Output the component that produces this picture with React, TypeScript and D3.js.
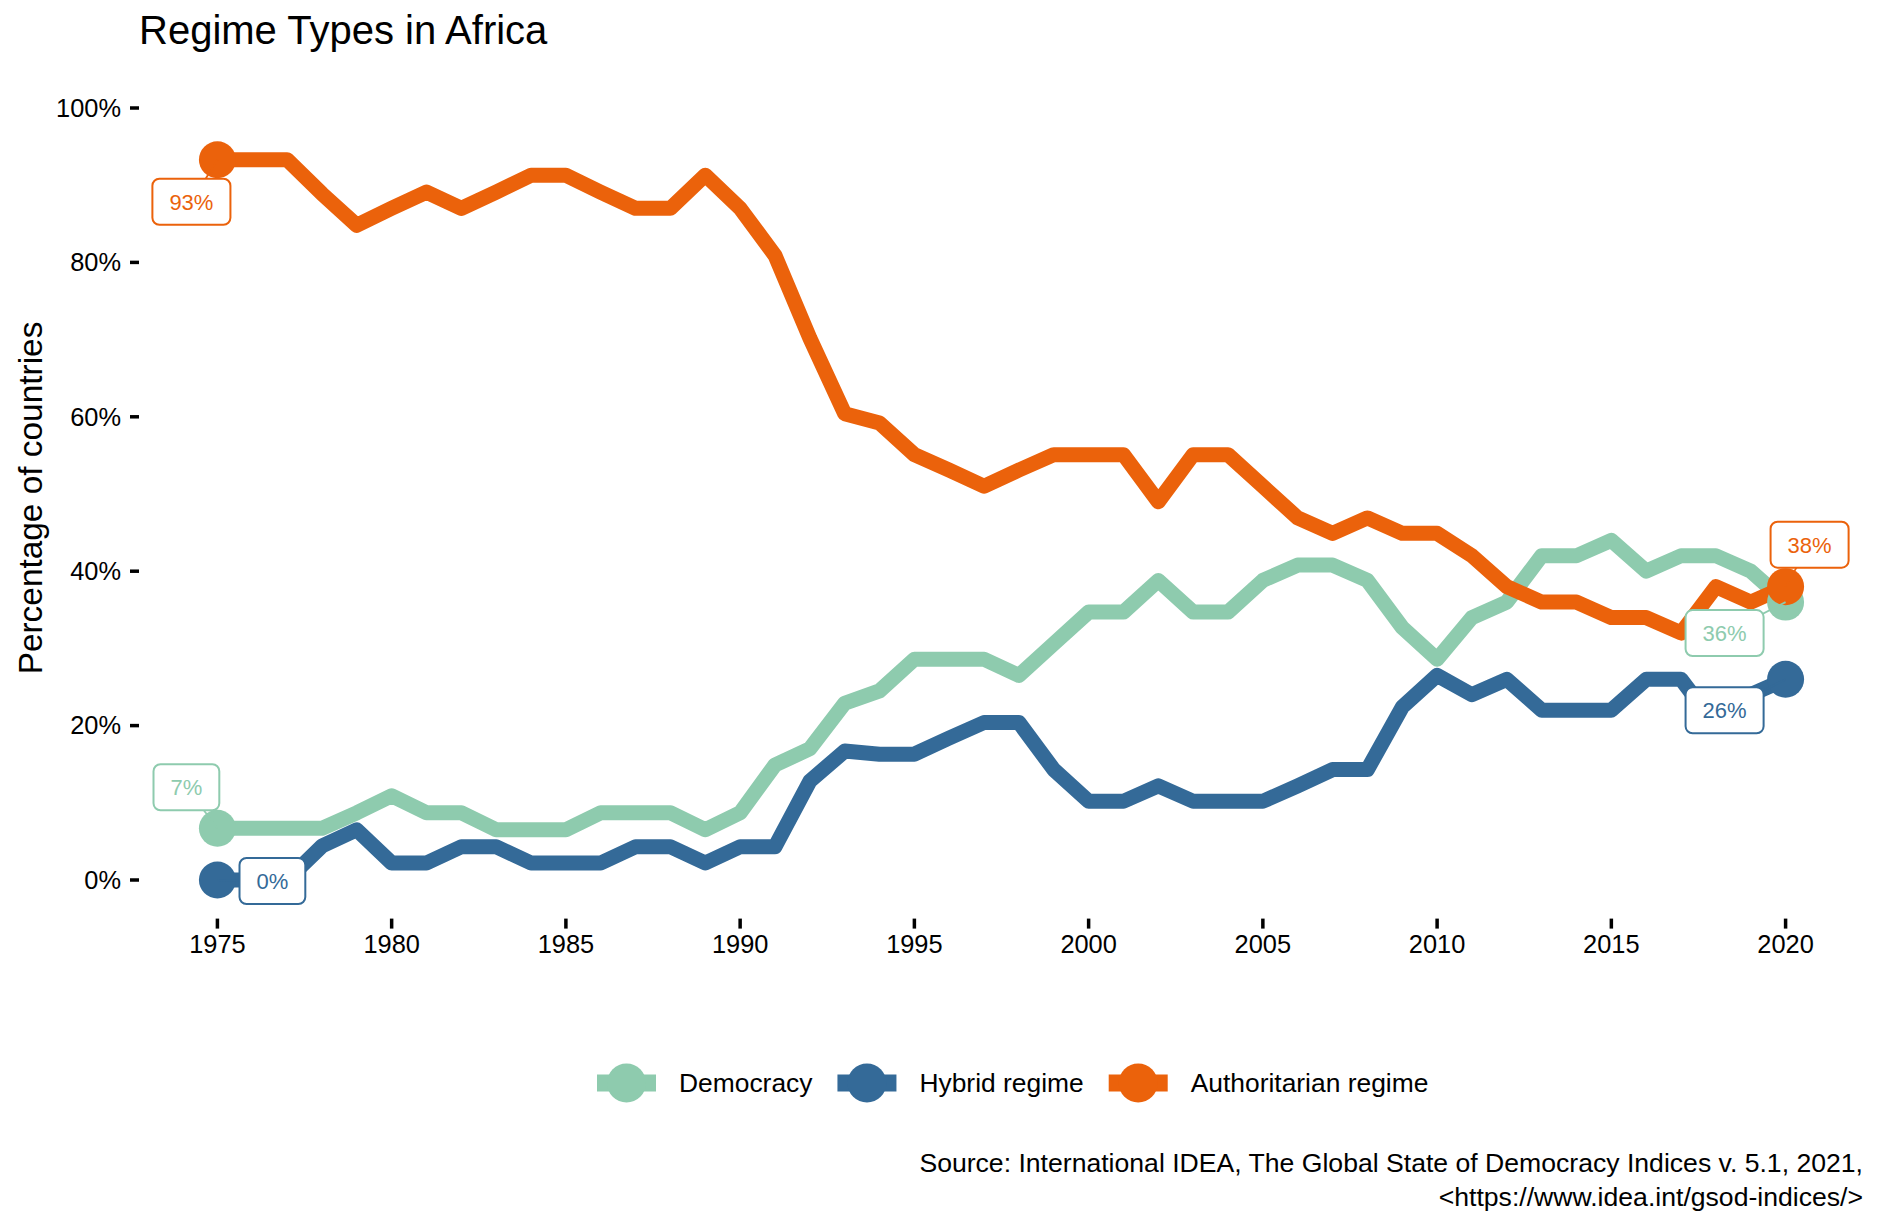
import React from "react";
import * as d3 from "d3";

const years = [
  1975, 1976, 1977, 1978, 1979, 1980, 1981, 1982, 1983, 1984,
  1985, 1986, 1987, 1988, 1989, 1990, 1991, 1992, 1993, 1994,
  1995, 1996, 1997, 1998, 1999, 2000, 2001, 2002, 2003, 2004,
  2005, 2006, 2007, 2008, 2009, 2010, 2011, 2012, 2013, 2014,
  2015, 2016, 2017, 2018, 2019, 2020,
];

const democracy = [
  6.7, 6.7, 6.7, 6.7, 8.7, 10.9, 8.7, 8.7, 6.5, 6.5,
  6.5, 8.7, 8.7, 8.7, 6.5, 8.7, 14.9, 17.0, 22.9, 24.5,
  28.6, 28.6, 28.6, 26.5, 30.6, 34.7, 34.7, 38.8, 34.7, 34.7,
  38.8, 40.8, 40.8, 38.8, 32.7, 28.6, 34, 36, 42, 42,
  44, 40, 42, 42, 40, 36,
];

const hybrid = [
  0, 0, 0, 4.4, 6.5, 2.2, 2.2, 4.3, 4.3, 2.2,
  2.2, 2.2, 4.3, 4.3, 2.2, 4.3, 4.3, 12.8, 16.7, 16.3,
  16.3, 18.4, 20.4, 20.4, 14.3, 10.2, 10.2, 12.2, 10.2, 10.2,
  10.2, 12.2, 14.3, 14.3, 22.4, 26.5, 24, 26, 22, 22,
  22, 26, 26, 20, 24, 26,
];

const authoritarian = [
  93.3, 93.3, 93.3, 88.9, 84.8, 87.0, 89.1, 87.0, 89.1, 91.3,
  91.3, 89.1, 87.0, 87.0, 91.3, 87.0, 80.9, 70.2, 60.4, 59.2,
  55.1, 53.1, 51.0, 53.1, 55.1, 55.1, 55.1, 49.0, 55.1, 55.1,
  51.0, 46.9, 44.9, 46.9, 44.9, 44.9, 42, 38, 36, 36,
  34, 34, 32, 38, 36, 38,
];

const seriesNames = ["Democracy", "Hybrid regime", "Authoritarian regime"];
const seriesValues = [democracy, hybrid, authoritarian];
const seriesColors = ["#8ECBAE", "#346A98", "#EB620B"];

const xTicks = [1975, 1980, 1985, 1990, 1995, 2000, 2005, 2010, 2015, 2020];
const yTicks = [0, 20, 40, 60, 80, 100];

const titleText = "Regime Types in Africa";
const yTitle = "Percentage of countries";
const captionLines = [
  "Source: International IDEA, The Global State of Democracy Indices v. 5.1, 2021,",
  "<https://www.idea.int/gsod-indices/>",
];

// label offsets (pixels) from the point: [series][start/end] -> [dx, dy]
const labelOffsets = [
  [[-31, -41], [-61, 31]],
  [[55, 1], [-61, 31]],
  [[-26, 42], [24, -42]],
];

const FONT = "'Liberation Sans', Arial, Helvetica, sans-serif";

function measure(text: string, size: number) {
  if (typeof document === "undefined") return text.length * size * 0.5;
  const c = document.createElement("canvas");
  const ctx = c.getContext("2d")!;
  ctx.font = `${size}px ${FONT}`;
  return ctx.measureText(text).width;
}

export default function App() {
  const W = 1881;
  const H = 1222;
  const panelLeft = 139;
  const panelRight = 1864;
  const panelTop = 69.4;
  const panelBottom = 918.6;

  const x = d3
    .scaleLinear()
    .domain([1975 - 2.25, 2020 + 2.25])
    .range([panelLeft, panelRight]);
  const y = d3
    .scaleLinear()
    .domain([-5, 105])
    .range([panelBottom, panelTop]);

  const line = d3
    .line<number>()
    .x((_, i) => x(years[i]))
    .y((d) => y(d));

  const pct = d3.format(".0f");
  const lw = 15;
  const r = 18.5;

  // legend layout
  const legendFont = 26.4;
  const keyW = 59;
  const keyGap = 23;
  const itemGap = 25;
  let lx = 597;
  const legendItems = seriesNames.map((n, i) => {
    const tw = measure(n, legendFont);
    const item = { name: n, color: seriesColors[i], x: lx, tw };
    lx += keyW + keyGap + tw + itemGap;
    return item;
  });
  const legendY = 1083;

  const labelFont = 22;
  const tickFont = 25.4;

  return (
    <svg
      width={W}
      height={H}
      style={{ position: "absolute", left: 0, top: 0, background: "#fff" }}
      fontFamily={FONT}
    >
      <rect x={0} y={0} width={W} height={H} fill="#fff" />
      <text x={139} y={44} fontSize={40} fill="#000">
        {titleText}
      </text>

      {/* y axis */}
      {yTicks.map((t) => (
        <g key={"y" + t}>
          <line
            x1={panelLeft - 9}
            x2={panelLeft}
            y1={y(t)}
            y2={y(t)}
            stroke="#000"
            strokeWidth={3.5}
          />
          <text
            x={121}
            y={y(t)}
            dy="0.35em"
            textAnchor="end"
            fontSize={tickFont}
            fill="#000"
          >
            {t + "%"}
          </text>
        </g>
      ))}
      <text
        transform={`translate(42, ${(panelTop + panelBottom) / 2 + 4}) rotate(-90)`}
        textAnchor="middle"
        fontSize={33.4}
        fill="#000"
      >
        {yTitle}
      </text>

      {/* x axis */}
      {xTicks.map((t) => (
        <g key={"x" + t}>
          <line
            x1={x(t)}
            x2={x(t)}
            y1={panelBottom}
            y2={panelBottom + 10}
            stroke="#000"
            strokeWidth={3.5}
          />
          <text
            x={x(t)}
            y={953}
            textAnchor="middle"
            fontSize={tickFont}
            fill="#000"
          >
            {t}
          </text>
        </g>
      ))}

      {/* lines */}
      {seriesValues.map((vals, i) => (
        <path
          key={"l" + i}
          d={line(vals) || ""}
          fill="none"
          stroke={seriesColors[i]}
          strokeWidth={lw}
          strokeLinejoin="round"
          strokeLinecap="butt"
        />
      ))}

      {/* end points */}
      {seriesValues.map((vals, i) => (
        <g key={"p" + i}>
          <circle cx={x(years[0])} cy={y(vals[0])} r={r} fill={seriesColors[i]} />
          <circle
            cx={x(years[years.length - 1])}
            cy={y(vals[vals.length - 1])}
            r={r}
            fill={seriesColors[i]}
          />
        </g>
      ))}

      {/* labels */}
      {seriesValues.map((vals, i) =>
        [0, vals.length - 1].map((idx, k) => {
          const px = x(years[idx]);
          const py = y(vals[idx]);
          const [dx, dy] = labelOffsets[i][k];
          const cx = px + dx;
          const cy = py + dy;
          const txt = pct(vals[idx]) + "%";
          const tw = measure(txt, labelFont);
          const bw = tw + 34;
          const bh = 46;
          return (
            <g key={"lab" + i + "-" + k}>
              <line
                x1={px}
                y1={py}
                x2={cx}
                y2={cy}
                stroke={seriesColors[i]}
                strokeWidth={1.8}
              />
              <rect
                x={cx - bw / 2}
                y={cy - bh / 2}
                width={bw}
                height={bh}
                rx={7}
                ry={7}
                fill="#fff"
                stroke={seriesColors[i]}
                strokeWidth={2}
              />
              <text
                x={cx}
                y={cy}
                dy="0.36em"
                textAnchor="middle"
                fontSize={labelFont}
                fill={seriesColors[i]}
              >
                {txt}
              </text>
            </g>
          );
        })
      )}

      {/* legend */}
      {legendItems.map((it) => (
        <g key={"lg" + it.name}>
          <line
            x1={it.x}
            x2={it.x + keyW}
            y1={legendY}
            y2={legendY}
            stroke={it.color}
            strokeWidth={lw + 2}
          />
          <circle cx={it.x + keyW / 2} cy={legendY} r={r + 1} fill={it.color} />
          <text
            x={it.x + keyW + keyGap}
            y={legendY}
            dy="0.35em"
            fontSize={legendFont}
            fill="#000"
          >
            {it.name}
          </text>
        </g>
      ))}

      {/* caption */}
      {captionLines.map((c, i) => (
        <text
          key={"c" + i}
          x={1863}
          y={1172 + i * 34}
          textAnchor="end"
          fontSize={26.6}
          fill="#000"
        >
          {c}
        </text>
      ))}
    </svg>
  );
}
